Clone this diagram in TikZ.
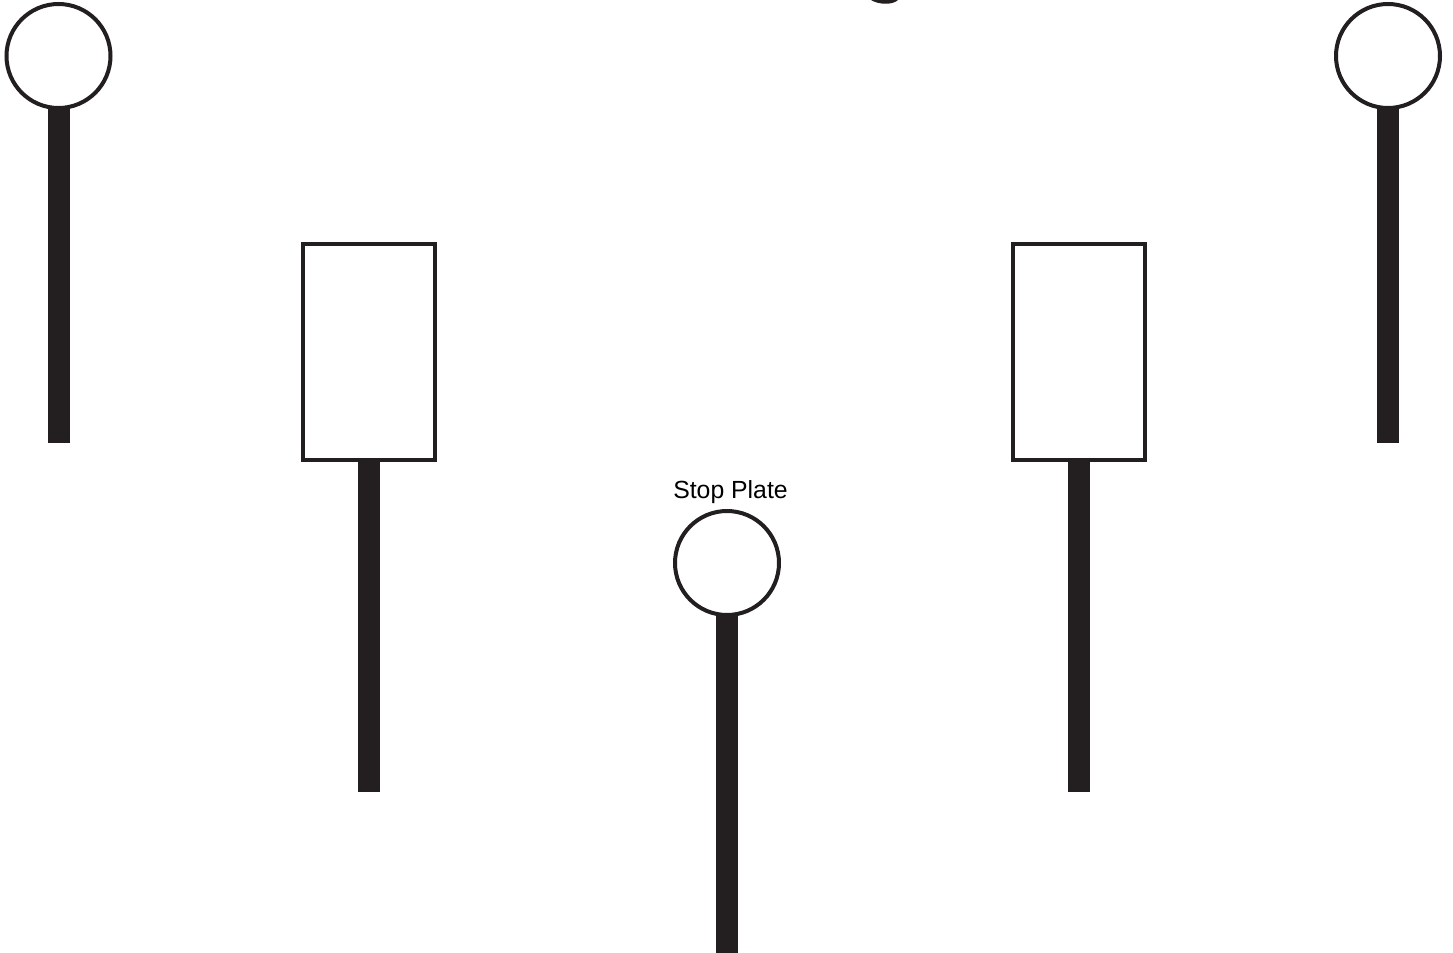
\documentclass[tikz,border=0pt]{standalone}
\usepackage{fontspec}
\setmainfont{Liberation Sans}
\usetikzlibrary{positioning}
\definecolor{ink}{HTML}{231F20}

\begin{document}
\begin{tikzpicture}[
  x=0.5pt, y=-0.5pt,
  plate/.style={draw=ink, fill=white, circle, line width=2pt, inner sep=0pt,
                minimum size=52pt},
  sign/.style={draw=ink, fill=white, rectangle, line width=2pt, inner sep=0pt,
               minimum width=66pt, minimum height=108pt},
  post/.style={draw=ink, line width=11pt},
  lbl/.style={font=\fontsize{12.4}{14}\selectfont, anchor=base}]

  \useasboundingbox (0,0) rectangle (1453,953);

  % cut-off title glyph at the top edge
  \fill[ink] (871,0) .. controls (879,5) and (893,5) .. (898,0) -- cycle;

  % outer plates
  \node[plate] (lplate) at (58.5,56) {};
  \node[plate] (rplate) at (1388,56) {};
  \coordinate (lfoot) at (58.5,443);
  \coordinate (rfoot) at (1388,443);
  \draw[post] ([yshift=2pt]lplate.south) -- (lfoot);
  \draw[post] ([yshift=2pt]rplate.south) -- (rfoot);

  % signs
  \node[sign] (lsign) at (369,352) {};
  \node[sign] (rsign) at (1078.5,352) {};
  \coordinate (lsfoot) at (369,792);
  \coordinate (rsfoot) at (1078.5,792);
  \draw[post] ([yshift=2pt]lsign.south) -- (lsfoot);
  \draw[post] ([yshift=2pt]rsign.south) -- (rsfoot);

  % stop plate
  \node[plate] (stop) at (727,563) {};
  \coordinate (sfoot) at (727,953);
  \draw[post] ([yshift=2pt]stop.south) -- (sfoot);
  \node[lbl] (stoplbl) at (730.5,498) {Stop Plate};
\end{tikzpicture}
\end{document}
